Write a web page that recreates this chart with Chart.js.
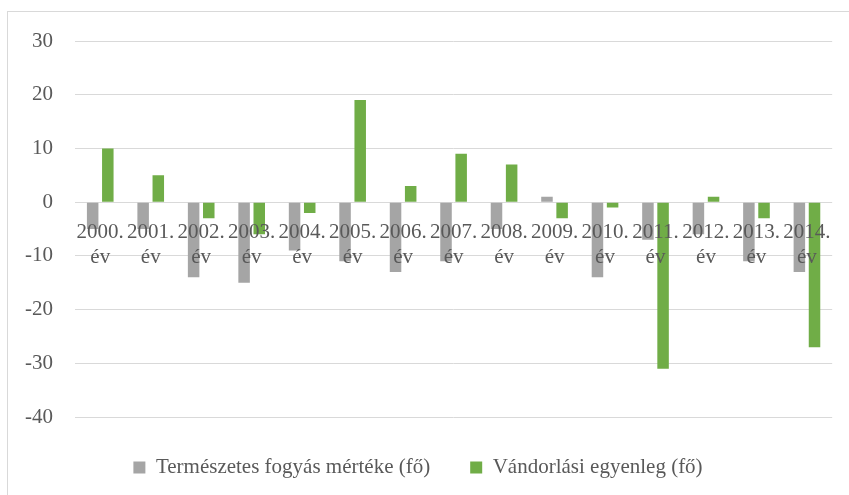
<!DOCTYPE html>
<html>
<head>
<meta charset="utf-8">
<script src="https://cdn.jsdelivr.net/npm/chart.js@4.4.1/dist/chart.umd.min.js"></script>
<style>
  html, body { margin: 0; padding: 0; background: #ffffff; }
  #wrap { position: relative; width: 849px; height: 495px; overflow: hidden; }
  #frame { position: absolute; left: 7px; top: 11px; width: 900px; height: 600px; border: 1px solid #d9d9d9; box-sizing: border-box; }
  #chart { position: absolute; left: 0; top: 0; }
</style>
</head>
<body>
<div id="wrap">
  <div id="frame"></div>
  <canvas id="chart" width="849" height="495"></canvas>
</div>
<script>
// Years shown on the category axis (second label line is "év")
const years = ['2000.', '2001.', '2002.', '2003.', '2004.', '2005.', '2006.', '2007.',
               '2008.', '2009.', '2010.', '2011.', '2012.', '2013.', '2014.'];
const yearSuffix = 'év';

// Természetes fogyás mértéke (fő)
const naturalDecrease = [-5, -5, -14, -15, -9, -11, -13, -11, -5, 1, -14, -7, -6, -11, -13];
// Vándorlási egyenleg (fő)
const migrationBalance = [10, 5, -3, -6, -2, 19, 3, 9, 7, -3, -1, -31, 1, -3, -27];

const seriesNames = ['Természetes fogyás mértéke (fő)', 'Vándorlási egyenleg (fő)'];
const yTicks = [30, 20, 10, 0, -10, -20, -30, -40];

const textColor = '#595959';
const fontFamily = '"Liberation Serif", "Times New Roman", serif';

const ctx = document.getElementById('chart').getContext('2d');
new Chart(ctx, {
    type: 'bar',
    data: {
        labels: years.map(y => [y, yearSuffix]),
        datasets: [{
            label: seriesNames[0],
            data: naturalDecrease,
            backgroundColor: '#a5a5a5',
            barPercentage: 0.76,
            categoryPercentage: 0.6
        }, {
            label: seriesNames[1],
            data: migrationBalance,
            backgroundColor: '#70ad47',
            barPercentage: 0.76,
            categoryPercentage: 0.6
        }]
    },
    options: {
        responsive: false,
        animation: false,
        layout: {
            padding: { left: 0, right: 13, top: 41, bottom: 7 }
        },
        scales: {
            x: {
                position: { y: 0 },
                grid: { display: false, drawTicks: false },
                border: { display: false },
                ticks: {
                    z: 1,
                    color: textColor,
                    font: { family: fontFamily, size: 21 },
                    padding: 18,
                    maxRotation: 0,
                    autoSkip: false
                }
            },
            y: {
                min: Math.min(...yTicks),
                max: Math.max(...yTicks),
                afterFit: scale => { scale.width = 75; },
                afterBuildTicks: scale => {
                    scale.ticks = yTicks.map(v => ({ value: v }));
                },
                grid: { color: '#d9d9d9', lineWidth: 1, drawTicks: false },
                border: { display: false },
                ticks: {
                    color: textColor,
                    font: { family: fontFamily, size: 21 },
                    padding: 22
                }
            }
        },
        plugins: {
            legend: {
                position: 'bottom',
                labels: {
                    color: textColor,
                    font: { family: fontFamily, size: 21 },
                    boxWidth: 12,
                    boxHeight: 12,
                    padding: 40
                }
            },
            tooltip: { enabled: false }
        }
    }
});
</script>
</body>
</html>
